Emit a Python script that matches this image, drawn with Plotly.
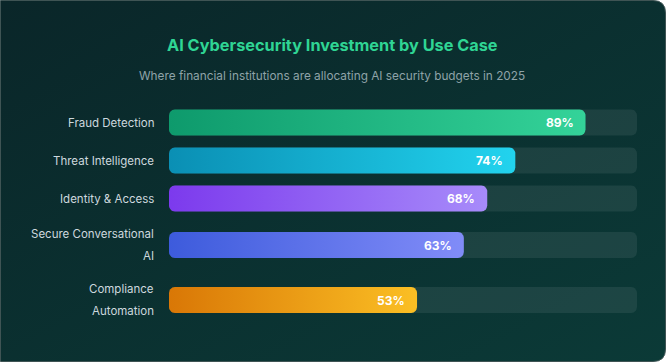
import base64
import numpy as np
import plotly.graph_objects as go

# ---------------- data ----------------
categories = ["Fraud Detection", "Threat Intelligence", "Identity & Access",
              "Secure Conversational<br>AI", "Compliance<br>Automation"]
values = [89, 74, 68, 63, 53]
color_start = ["#0e9a6c", "#0a8fb4", "#7c3aed", "#3d5bdc", "#d97706"]
color_end = ["#34d399", "#22d3ee", "#a78bfa", "#818cf8", "#fbbf24"]
title_text = "AI Cybersecurity Investment by Use Case"
subtitle_text = "Where financial institutions are allocating AI security budgets in 2025"
x_max = 100

# ---------------- layout geometry ----------------
W, H = 666, 362
ML, MR, MT, MB = 169, 29, 100, 30
PW, PH = W - ML - MR, H - MT - MB
BAR_H = 26
GAP = 12
LINE_H = 21.5
RADIUS = 6
FONT = "Inter"

px_per_x = PW / x_max

# row centres derived from label line counts (flex-like layout)
lines = [c.split("<br>") for c in categories]
row_h = [max(BAR_H, len(l) * LINE_H) for l in lines]
centers = []
pos = 9.5
for h in row_h:
    centers.append(pos + h / 2)
    pos += h + GAP


def rounded_rect(x0, x1, yc, h, r):
    rx = r / px_per_x
    ry = r
    y0, y1 = yc - h / 2, yc + h / 2
    t = np.linspace(0, np.pi / 2, 8)
    xs, ys = [], []
    for a in t:
        xs.append(x1 - rx + rx * np.sin(a)); ys.append(y0 + ry - ry * np.cos(a))
    for a in t:
        xs.append(x1 - rx + rx * np.cos(a)); ys.append(y1 - ry + ry * np.sin(a))
    for a in t:
        xs.append(x0 + rx - rx * np.sin(a)); ys.append(y1 - ry + ry * np.cos(a))
    for a in t:
        xs.append(x0 + rx - rx * np.cos(a)); ys.append(y0 + ry - ry * np.sin(a))
    xs.append(xs[0]); ys.append(ys[0])
    return xs, ys


fig = go.Figure()

for i, (v, c) in enumerate(zip(values, centers)):
    tx, ty = rounded_rect(0, x_max, c, BAR_H, RADIUS)
    fig.add_trace(go.Scatter(x=tx, y=ty, mode="lines", fill="toself",
                             line=dict(width=0), fillcolor="rgba(255,255,255,0.075)",
                             hoverinfo="skip", showlegend=False))
    bx, by = rounded_rect(0, v, c, BAR_H, RADIUS)
    fig.add_trace(go.Scatter(x=bx, y=by, mode="lines", fill="toself",
                             line=dict(width=0),
                             fillgradient=dict(type="horizontal",
                                               colorscale=[[0, color_start[i]], [1, color_end[i]]]),
                             hoverinfo="skip", showlegend=False, name=categories[i]))

annotations = []
for i, (v, c) in enumerate(zip(values, centers)):
    annotations.append(dict(x=v, y=c, xref="x", yref="y", text=f"<b>{v}%</b>",
                            showarrow=False, xanchor="right", yanchor="middle", xshift=-10,
                            font=dict(family=FONT, size=12, color="#ffffff")))
    n = len(lines[i])
    for j, ln in enumerate(lines[i]):
        annotations.append(dict(x=0, y=c + (j - (n - 1) / 2) * LINE_H, xref="x", yref="y",
                                text=ln, showarrow=False, xanchor="right", yanchor="middle",
                                xshift=-13, font=dict(family=FONT, size=11.5, color="#cdd8de")))


def paper_x(px):
    return (px - ML) / PW


def paper_y(py):
    return (H - MB - py) / PH


annotations.append(dict(x=paper_x(332), y=paper_y(44.5), xref="paper", yref="paper",
                        text=f"<b>{title_text}</b>", showarrow=False, xanchor="center",
                        yanchor="middle", font=dict(family=FONT, size=16.3, color="#2fd594")))
annotations.append(dict(x=paper_x(332), y=paper_y(75.5), xref="paper", yref="paper",
                        text=subtitle_text, showarrow=False, xanchor="center",
                        yanchor="middle", font=dict(family=FONT, size=11.8, color="#8fa3a8")))

svg = f'''<svg xmlns="http://www.w3.org/2000/svg" width="{W}" height="{H}" viewBox="0 0 {W} {H}">
<defs><linearGradient id="g" x1="0" y1="0" x2="1" y2="1">
<stop offset="0" stop-color="#0a2629"/><stop offset="1" stop-color="#0b3a37"/></linearGradient></defs>
<path d="M0.5,0.5 H{W-13} Q{W-0.5},0.5 {W-0.5},13 V{H-13} Q{W-0.5},{H-0.5} {W-13},{H-0.5} H0.5 Z"
 fill="url(#g)" stroke="#3f5454" stroke-width="1"/>
</svg>'''
src = "data:image/svg+xml;base64," + base64.b64encode(svg.encode()).decode()

fig.update_layout(
    width=W, height=H,
    margin=dict(l=ML, r=MR, t=MT, b=MB),
    paper_bgcolor="#ffffff", plot_bgcolor="rgba(0,0,0,0)",
    xaxis=dict(range=[0, x_max], visible=False, fixedrange=True),
    yaxis=dict(range=[PH, 0], visible=False, fixedrange=True),
    annotations=annotations,
    images=[dict(source=src, xref="paper", yref="paper", x=-ML / PW, y=1 + MT / PH,
                 sizex=W / PW, sizey=H / PH, sizing="stretch", xanchor="left",
                 yanchor="top", layer="below")],
    showlegend=False,
)

fig.write_html("out.html", config={"displayModeBar": False},
               post_script="document.body.style.margin='0px';document.body.style.overflow='hidden';")
